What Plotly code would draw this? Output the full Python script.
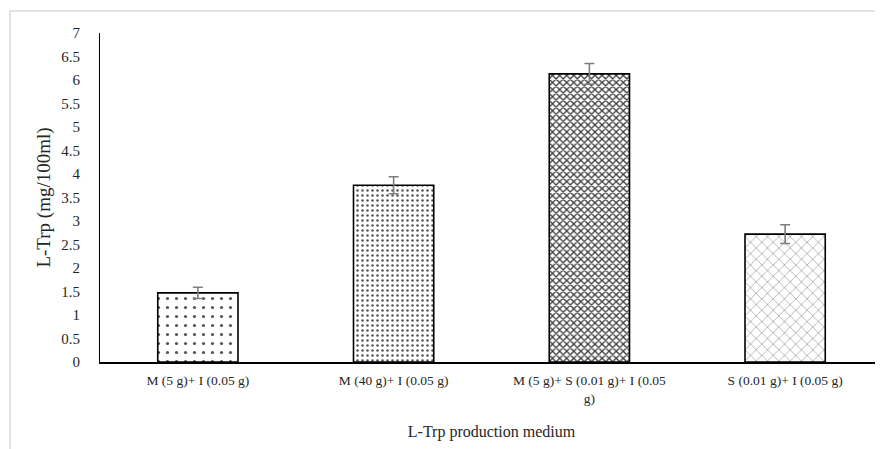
import plotly.graph_objects as go

categories = ["M (5 g)+ I (0.05 g)", "M (40 g)+ I (0.05 g)",
              "M (5 g)+ S (0.01 g)+ I (0.05<br>g)", "S (0.01 g)+ I (0.05 g)"]
values = [1.47, 3.76, 6.13, 2.72]
errors = [0.12, 0.18, 0.22, 0.20]
y_ticks = [0, 0.5, 1, 1.5, 2, 2.5, 3, 3.5, 4, 4.5, 5, 5.5, 6, 6.5, 7]

shapes = [".", ".", "x", "x"]
sizes = [9, 5, 5, 8]
solid = [0.1, 0.2, 0.45, 0.1]
fg = ["#555555", "#555555", "#3a3a3a", "#555555"]

fig = go.Figure()
fig.add_trace(go.Bar(
    x=categories, y=values, width=0.41,
    marker=dict(color="white", line=dict(color="black", width=1.6),
                pattern=dict(shape=shapes, size=sizes, solidity=solid,
                             fgcolor=fg, bgcolor="white", fillmode="replace")),
    error_y=dict(type="data", array=errors, color="#7f7f7f", thickness=1.6, width=5),
))

font = "Liberation Serif, Times New Roman, serif"
fig.update_layout(
    width=875, height=441,
    margin=dict(l=92, r=0, t=25, b=87),
    paper_bgcolor="white", plot_bgcolor="white",
    showlegend=False,
    font=dict(family=font, color="#262626"),
    xaxis=dict(showline=True, linecolor="black", linewidth=1.5, showgrid=False,
               ticks="", ticklabelstandoff=5, tickfont=dict(size=13.5, color="#262626"),
               title=dict(text="L-Trp production medium", font=dict(size=16, color="#262626"), standoff=21)),
    yaxis=dict(range=[0, 7], tickvals=y_ticks, ticktext=[f"{v:g}" for v in y_ticks],
               showline=True, linecolor="black", linewidth=1.2, showgrid=False, zeroline=False,
               ticks="", ticklabelstandoff=16, tickfont=dict(size=15, color="#262626"),
               title=dict(text="L-Trp (mg/100ml)", font=dict(size=19, color="#262626"), standoff=5)),
    shapes=[
        dict(type="line", xref="paper", yref="paper", x0=-0.115, x1=1.01, y0=1.067, y1=1.067,
             line=dict(color="#d9d9d9", width=1.5)),
        dict(type="line", xref="paper", yref="paper", x0=-0.115, x1=-0.115, y0=1.067, y1=-0.3,
             line=dict(color="#d9d9d9", width=1.5)),
    ],
)
fig.write_html("out.html")
